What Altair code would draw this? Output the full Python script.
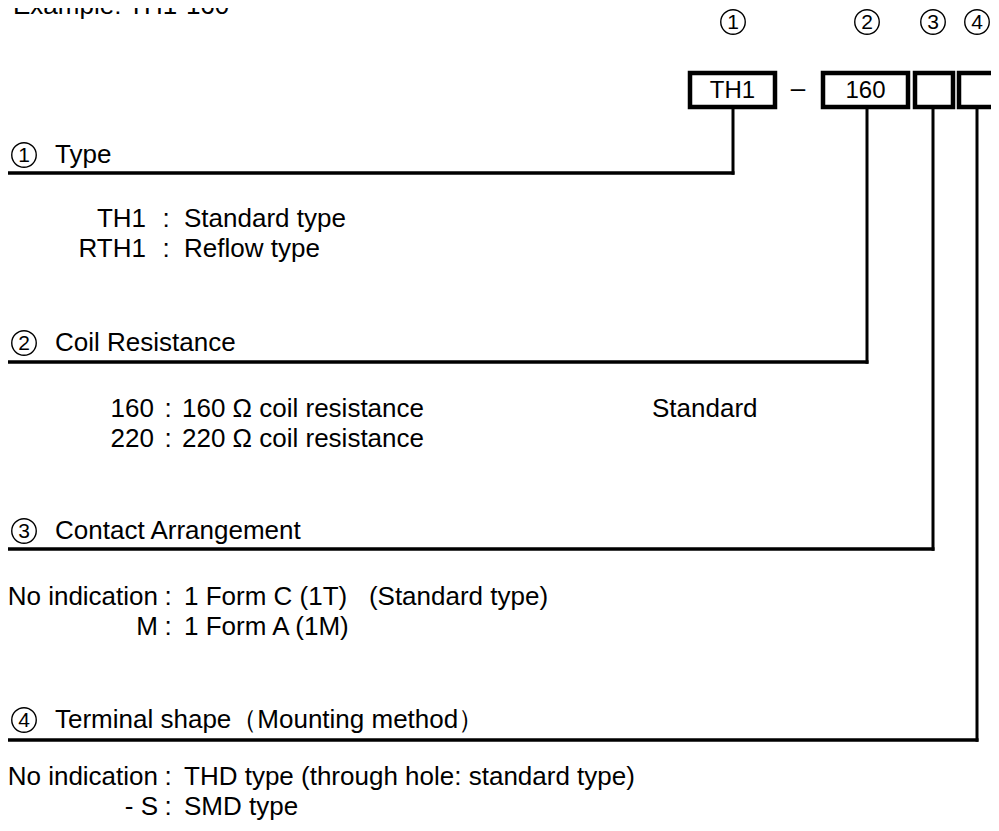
import altair as alt
import pandas as pd

FONT = "Liberation Sans"
FS = 26
W, H = 983, 815

# ---- content ----
title_text = ["Example: TH1-160"]
circle_digits = ["1", "2", "3", "4"]
top_circle_x = [733, 867, 933, 977]
top_circle_y = [22, 22, 22, 22]

box_labels = ["TH1", "160", "", ""]
box_x1 = [690, 823, 915, 959]
box_x2 = [775, 908, 953, 997]
box_y1 = [73, 73, 73, 73]
box_y2 = [107, 107, 107, 107]

conn_x = [733, 867, 933, 977]
conn_y_end = [173, 362, 549, 740]

section_titles = ["Type", "Coil Resistance", "Contact Arrangement", "Terminal shape（Mounting method）"]
section_title_y = [155, 343, 531, 720]

item_keys = ["TH1", "RTH1", "160", "220", "No indication", "M", "No indication", "- S"]
item_desc = ["Standard type", "Reflow type", "160 Ω coil resistance", "220 Ω coil resistance",
             "1 Form C (1T)\u00a0\u00a0 (Standard type)", "1 Form A (1M)",
             "THD type (through hole: standard type)", "SMD type"]
item_y = [219, 249, 409, 439, 597, 627, 777, 807]
item_key_right = [146, 146, 154, 154, 158, 158, 158, 158]
item_colon_x = [166, 166, 168, 168, 168, 168, 168, 168]
item_desc_left = [184, 184, 182, 182, 184, 184, 184, 184]

extra_text = ["Standard"]
extra_x = [652]
extra_y = [409]

xs = alt.Scale(domain=[8, 8 + W], nice=False, zero=False)
ys = alt.Scale(domain=[8, 8 + H], nice=False, zero=False, reverse=True)


def X(f="x"):
    return alt.X(f, type="quantitative", scale=xs, axis=None)


def Y(f="y"):
    return alt.Y(f, type="quantitative", scale=ys, axis=None)


layers = []

# title (cut at the top edge in the reference)
layers.append(alt.Chart(pd.DataFrame({"x": [13], "y": [14], "t": title_text})).mark_text(
    font=FONT, fontSize=FS, align="left", baseline="alphabetic", color="black"
).encode(x=X(), y=Y(), text="t:N"))

# horizontal lines
hl = pd.DataFrame({"x": [4] * 4, "x2": [c + 1.5 for c in conn_x], "y": conn_y_end})
layers.append(alt.Chart(hl).mark_rule(color="black", strokeWidth=3.5).encode(
    x=X(), x2="x2:Q", y=Y()))

# vertical connectors
vl = pd.DataFrame({"x": conn_x, "y": [box_y2[0]] * 4, "y2": [c + 1.7 for c in conn_y_end]})
layers.append(alt.Chart(vl).mark_rule(color="black", strokeWidth=3).encode(
    x=X(), y=Y(), y2="y2:Q"))

# boxes
bx = pd.DataFrame({"x": box_x1, "x2": box_x2, "y": box_y1, "y2": box_y2, "t": box_labels,
                   "cx": [(a + b) / 2 for a, b in zip(box_x1, box_x2)],
                   "cy": [(a + b) / 2 for a, b in zip(box_y1, box_y2)]})
layers.append(alt.Chart(bx).mark_rect(fill="white", stroke="black", strokeWidth=4.5).encode(
    x=X(), x2="x2:Q", y=Y(), y2="y2:Q"))
layers.append(alt.Chart(bx).mark_text(font=FONT, fontSize=24, baseline="middle", dy=1).encode(
    x=X("cx"), y=Y("cy"), text="t:N"))

# dash between boxes
layers.append(alt.Chart(pd.DataFrame({"x": [798], "y": [89], "t": ["–"]})).mark_text(
    font=FONT, fontSize=FS, baseline="middle").encode(x=X(), y=Y(), text="t:N"))

# circled numbers (top row and section headers)
cdf = pd.DataFrame({
    "x": top_circle_x + [24, 24, 24, 24],
    "y": top_circle_y + section_title_y,
    "t": circle_digits + circle_digits,
})
layers.append(alt.Chart(cdf).mark_point(shape="circle", filled=False, color="black",
                                        strokeWidth=1.4, size=600, opacity=1).encode(x=X(), y=Y()))
layers.append(alt.Chart(cdf).mark_text(font=FONT, fontSize=21, baseline="middle", dy=1).encode(
    x=X(), y=Y(), text="t:N"))

# section titles
st = pd.DataFrame({"x": [55] * 4, "y": section_title_y, "t": section_titles})
layers.append(alt.Chart(st).mark_text(font=FONT, fontSize=FS, align="left", baseline="middle").encode(
    x=X(), y=Y(), text="t:N"))

# item keys, colons and descriptions
it = pd.DataFrame({"xk": item_key_right, "xc": item_colon_x, "xd": item_desc_left,
                   "y": item_y, "k": item_keys, "d": item_desc, "c": [":"] * len(item_y)})
layers.append(alt.Chart(it).mark_text(font=FONT, fontSize=FS, align="right", baseline="middle").encode(
    x=X("xk"), y=Y(), text="k:N"))
layers.append(alt.Chart(it).mark_text(font=FONT, fontSize=FS, align="center", baseline="middle").encode(
    x=X("xc"), y=Y(), text="c:N"))
layers.append(alt.Chart(it).mark_text(font=FONT, fontSize=FS, align="left", baseline="middle").encode(
    x=X("xd"), y=Y(), text="d:N"))

ex = pd.DataFrame({"x": extra_x, "y": extra_y, "t": extra_text})
layers.append(alt.Chart(ex).mark_text(font=FONT, fontSize=FS, align="left", baseline="middle").encode(
    x=X(), y=Y(), text="t:N"))

chart = alt.layer(*layers).properties(
    width=W, height=H, padding=0, background="white",
    autosize=alt.AutoSizeParams(type="none")
).configure_view(stroke=None)

chart.save("out.html", embed_options={"renderer": "svg", "actions": False})
